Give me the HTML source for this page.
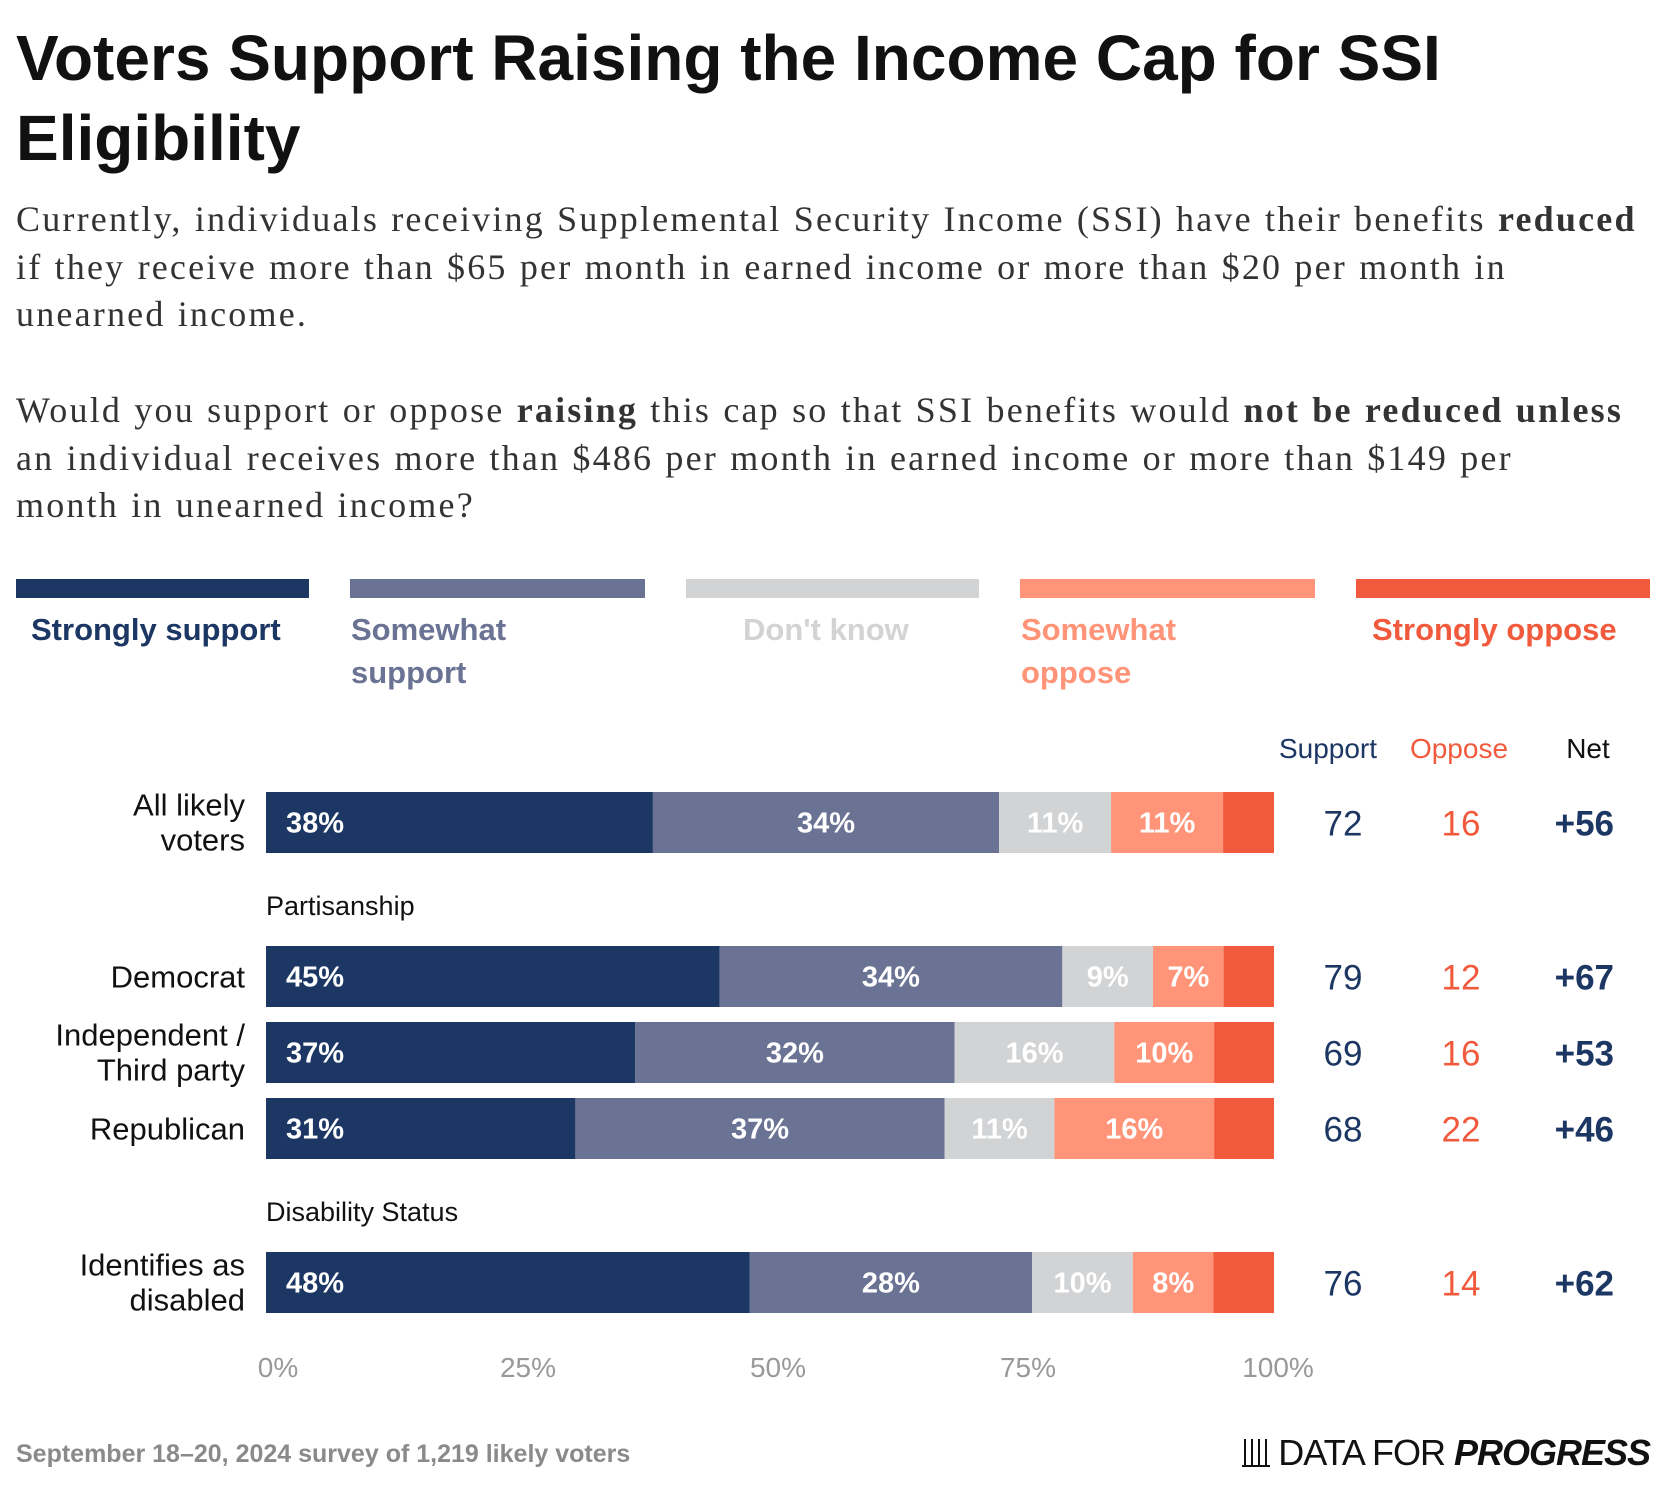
<!DOCTYPE html>
<html><head><meta charset="utf-8"><style>
body{margin:0;width:1666px;height:1490px;background:#fff;position:relative;overflow:hidden;font-family:"Liberation Sans",sans-serif}
.a{position:absolute;white-space:nowrap}
#title{left:16px;top:18px;font-size:64px;font-weight:bold;color:#111;line-height:80px;white-space:normal;width:1560px}
.sub{left:16px;font-family:"Liberation Serif",serif;font-size:36px;letter-spacing:2.2px;word-spacing:1px;color:#333;line-height:47.5px}
.lb{position:absolute;top:579px;height:19px}
.lt{position:absolute;top:608px;font-size:31px;font-weight:bold;line-height:43px}
</style></head><body>
<div class="a" id="title">Voters Support Raising the Income Cap for SSI Eligibility</div>
<div class="a sub" style="top:196px">Currently, individuals receiving Supplemental Security Income (SSI) have their benefits <b>reduced</b><br>if they receive more than $65 per month in earned income or more than $20 per month in<br>unearned income.</div>
<div class="a sub" style="top:387px">Would you support or oppose <b>raising</b> this cap so that SSI benefits would <b>not be reduced unless</b><br>an individual receives more than $486 per month in earned income or more than $149 per<br>month in unearned income?</div>

<div class="lb" style="left:16px;width:293px;background:#1c3763"></div>
<div class="lb" style="left:350px;width:295px;background:#6a7393"></div>
<div class="lb" style="left:686px;width:293px;background:#d2d3d5"></div>
<div class="lb" style="left:1020px;width:295px;background:#ff9478"></div>
<div class="lb" style="left:1356px;width:294px;background:#f15a3c"></div>
<div class="lt" style="left:31px;color:#1c3763">Strongly support</div>
<div class="lt" style="left:351px;color:#6a7393">Somewhat<br>support</div>
<div class="lt" style="left:743px;color:#d2d3d5">Don't know</div>
<div class="lt" style="left:1021px;color:#ff9478">Somewhat<br>oppose</div>
<div class="lt" style="left:1372px;color:#f15a3c">Strongly oppose</div>

<svg id="chart" class="a" style="left:0;top:0" width="1666" height="1490"></svg>

<div class="a" style="left:16px;top:1440px;font-size:25px;font-weight:bold;color:#8a8a8a">September 18–20, 2024 survey of 1,219 likely voters</div>
<div class="a" style="right:16px;top:1432px;font-size:36px;color:#111;letter-spacing:-1px"><span style="display:inline-block;width:28px;height:26px;border-bottom:2px solid #111;background:linear-gradient(90deg,transparent 2px,#111 2px,#111 4px,transparent 4px,transparent 9px,#111 9px,#111 11px,transparent 11px,transparent 16px,#111 16px,#111 18px,transparent 18px,transparent 23px,#111 23px,#111 25px,transparent 25px);vertical-align:-2px;margin-right:8px"></span>DATA FOR <b><i>PROGRESS</i></b></div>

<script>
const categories=["All likely voters","Democrat","Independent / Third party","Republican","Identifies as disabled"];
const stronglySupport=[38,45,37,31,48];
const somewhatSupport=[34,34,32,37,28];
const dontKnow=[11,9,16,11,10];
const somewhatOppose=[11,7,10,16,8];
const stronglyOppose=[5,5,6,6,6];
const supportTotals=[72,79,69,68,76];
const opposeTotals=[16,12,16,22,14];
const netValues=[56,67,53,46,62];
const tickLabels=["0%","25%","50%","75%","100%"];
const tickValues=[0,25,50,75,100];

const NS="http://www.w3.org/2000/svg";
const svg=document.getElementById('chart');
const X0=266,W=1008;
const x=v=>X0+v/100*W;
const rowTops=[792,946,1022,1098,1252];
const rowH=61;
const colors=["#1c3763","#6a7393","#d2d3d5","#ff9478","#f15a3c"];
const segNames=["strongly-support","somewhat-support","dont-know","somewhat-oppose","strongly-oppose"];
const labelLines=[["All likely","voters"],["Democrat"],["Independent /","Third party"],["Republican"],["Identifies as","disabled"]];
function t(xp,yp,str,attrs){const e=document.createElementNS(NS,'text');e.setAttribute('x',xp);e.setAttribute('y',yp);for(const k in attrs)e.setAttribute(k,attrs[k]);e.textContent=str;svg.appendChild(e);return e;}

const series=[stronglySupport,somewhatSupport,dontKnow,somewhatOppose,stronglyOppose];
categories.forEach((c,i)=>{
  const top=rowTops[i],mid=top+rowH/2;
  const total=series.reduce((s,a)=>s+a[i],0);
  let acc=0;
  series.forEach((arr,j)=>{
    const v=arr[i]/total*100;
    const r=document.createElementNS(NS,'rect');
    r.setAttribute('x',x(acc));r.setAttribute('y',top);r.setAttribute('width',x(acc+v)-x(acc));r.setAttribute('height',rowH);r.setAttribute('fill',colors[j]);
    
    
    svg.appendChild(r);
    if(j<4){
      const lx=j===0?x(acc)+20:(x(acc)+x(acc+v))/2;
      const e=t(lx,mid+10,arr[i]+'%',{'font-size':29,'font-weight':'bold',fill:'#fff','text-anchor':j===0?'start':'middle','font-family':'Liberation Sans, sans-serif'});
      
      
    }
    acc+=v;
  });
  const lines=labelLines[i];
  lines.forEach((ln,k)=>{
    const yy=lines.length===1?mid+11:mid-7+k*35;
    const e=t(245,yy,ln,{'font-size':31,fill:'#111','text-anchor':'end'});
    
    
  });
  let e=t(1343,mid+13,supportTotals[i],{'font-size':35,fill:'#1c3763','text-anchor':'middle'});
  
  
  e=t(1461,mid+13,opposeTotals[i],{'font-size':35,fill:'#f15a3c','text-anchor':'middle'});
  
  
  e=t(1614,mid+13,'+'+netValues[i],{'font-size':35,'font-weight':'bold',fill:'#1c3763','text-anchor':'end'});
  
  
});
[["Support",1328,"#1c3763"],["Oppose",1459,"#f15a3c"],["Net",1588,"#111"]].forEach(h=>{
  const e=t(h[1],758,h[0],{'font-size':28,fill:h[2],'text-anchor':'middle'});
  
  
});
[["Partisanship",915],["Disability Status",1221]].forEach(g=>{
  const e=t(266,g[1],g[0],{'font-size':27,fill:'#111'});
  
  
});
tickValues.forEach((v,i)=>{
  const e=t(x(v)+12-v*0.08,1377,tickLabels[i],{'font-size':28,fill:'#999','text-anchor':'middle'});
  
  
});
</script>
</body></html>
